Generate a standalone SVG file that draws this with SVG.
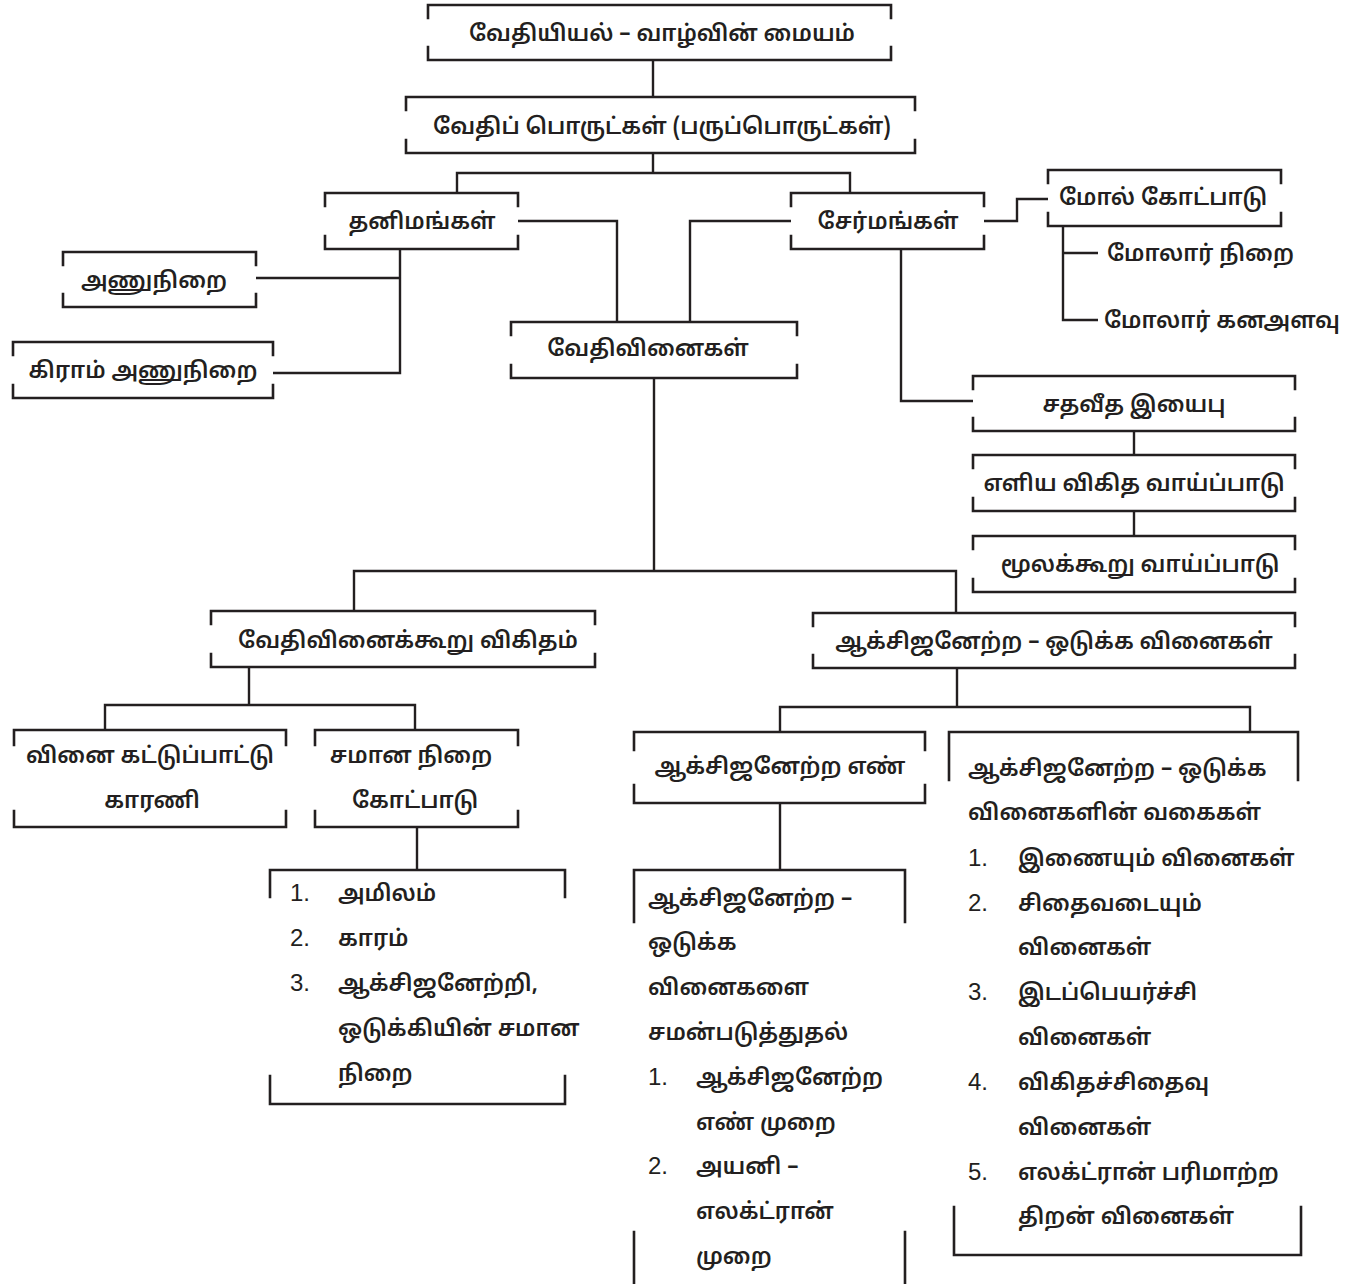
<svg xmlns="http://www.w3.org/2000/svg" width="1368" height="1284" viewBox="0 0 1368 1284">
<style>
.b{fill:none;stroke:#231f20;stroke-width:2.6;stroke-linecap:square}
.c{fill:none;stroke:#231f20;stroke-width:2.4}
text{font-family:"Noto Sans Tamil","Lohit Tamil","Noto Sans",sans-serif;font-size:22.5px;font-weight:600;fill:#231f20}
.m{text-anchor:middle}
.n{font-family:"Liberation Sans",Arial,sans-serif;font-weight:400;font-size:24px}
</style>
<rect width="1368" height="1284" fill="#fff"/>
<g id="connectors">
<path class="c" d="M653 60V97"/>
<path class="c" d="M653 153V173M457 193V173H850V193"/>
<path class="c" d="M518 221H617V322M791 221H690V322"/>
<path class="c" d="M400 249V373H273M400 278H256"/>
<path class="c" d="M984 221H1017V199H1048"/>
<path class="c" d="M1063 226V320H1098M1063 253H1098"/>
<path class="c" d="M901 249V401H973"/>
<path class="c" d="M1134 431V455M1134 511V536"/>
<path class="c" d="M654 378V571M354 611V571H956V613"/>
<path class="c" d="M249 667V705M105 730V705H415V730"/>
<path class="c" d="M417 827V870"/>
<path class="c" d="M957 668V707M780 732V707H1250V732"/>
<path class="c" d="M780 803V870"/>
</g>
<g id="n1"><path class="b" d="M428 18V5H891V18M428 47V60H891V47"/><text class="m" x="662" y="41">வேதியியல் – வாழ்வின் மையம்</text></g>
<g id="n2"><path class="b" d="M406 110V97H915V110M406 140V153H915V140"/><text class="m" x="662" y="134">வேதிப் பொருட்கள் (பருப்பொருட்கள்)</text></g>
<g id="n3"><path class="b" d="M325 206V193H518V206M325 236V249H518V236"/><text class="m" x="422" y="229">தனிமங்கள்</text></g>
<g id="n4"><path class="b" d="M791 206V193H984V206M791 236V249H984V236"/><text class="m" x="888" y="229">சேர்மங்கள்</text></g>
<g id="n5"><path class="b" d="M63 265V252H256V265M63 294V307H256V294"/><text class="m" x="154" y="288">அணுநிறை</text></g>
<g id="n6"><path class="b" d="M13 355V342H273V355M13 385V398H273V385"/><text class="m" x="143" y="378">கிராம் அணுநிறை</text></g>
<g id="n7"><path class="b" d="M511 335V322H797V335M511 365V378H797V365"/><text class="m" x="648" y="356">வேதிவினைகள்</text></g>
<g id="n8"><path class="b" d="M1048 183V170H1281V183M1048 213V226H1281V213"/><text class="m" x="1163" y="205">மோல் கோட்பாடு</text></g>
<g id="n9"><text x="1107" y="261">மோலார் நிறை</text></g>
<g id="n10"><text x="1104" y="328">மோலார் கனஅளவு</text></g>
<g id="n11"><path class="b" d="M973 389V376H1295V389M973 418V431H1295V418"/><text class="m" x="1134" y="412">சதவீத இயைபு</text></g>
<g id="n12"><path class="b" d="M973 468V455H1295V468M973 498V511H1295V498"/><text class="m" x="1134" y="491">எளிய விகித வாய்ப்பாடு</text></g>
<g id="n13"><path class="b" d="M973 549V536H1295V549M973 579V592H1295V579"/><text class="m" x="1140" y="572">மூலக்கூறு வாய்ப்பாடு</text></g>
<g id="n14"><path class="b" d="M211 624V611H595V624M211 654V667H595V654"/><text class="m" x="408" y="648">வேதிவினைக்கூறு விகிதம்</text></g>
<g id="n15"><path class="b" d="M813 626V613H1295V626M813 655V668H1295V655"/><text class="m" x="1054" y="649">ஆக்சிஜனேற்ற – ஒடுக்க வினைகள்</text></g>
<g id="n16"><path class="b" d="M14 745V730H286V745M14 811V827H286V811"/><text class="m" x="150" y="763">வினை கட்டுப்பாட்டு</text><text class="m" x="152" y="808">காரணி</text></g>
<g id="n17"><path class="b" d="M315 745V730H518V745M315 811V827H518V811"/><text class="m" x="411" y="763">சமான நிறை</text><text class="m" x="415" y="808">கோட்பாடு</text></g>
<g id="n18"><path class="b" d="M270 897V870H565V897M270 1076V1104H565V1076"/>
<text class="n" x="290" y="901">1.</text><text x="338" y="901">அமிலம்</text>
<text class="n" x="290" y="946">2.</text><text x="338" y="946">காரம்</text>
<text class="n" x="290" y="991">3.</text><text x="338" y="991">ஆக்சிஜனேற்றி,</text>
<text x="338" y="1036">ஒடுக்கியின் சமான</text>
<text x="338" y="1081">நிறை</text></g>
<g id="n19"><path class="b" d="M634 750V732H925V750M634 785V803H925V785"/><text class="m" x="780" y="774">ஆக்சிஜனேற்ற எண்</text></g>
<g id="n20"><path class="b" d="M949 780V732H1298V780M954 1207V1255H1301V1207"/>
<text x="968" y="776">ஆக்சிஜனேற்ற – ஒடுக்க</text>
<text x="968" y="820">வினைகளின் வகைகள்</text>
<text class="n" x="968" y="866">1.</text><text x="1018" y="866">இணையும் வினைகள்</text>
<text class="n" x="968" y="911">2.</text><text x="1018" y="911">சிதைவடையும்</text>
<text x="1018" y="955">வினைகள்</text>
<text class="n" x="968" y="1000">3.</text><text x="1018" y="1000">இடப்பெயர்ச்சி</text>
<text x="1018" y="1045">வினைகள்</text>
<text class="n" x="968" y="1090">4.</text><text x="1018" y="1090">விகிதச்சிதைவு</text>
<text x="1018" y="1135">வினைகள்</text>
<text class="n" x="968" y="1180">5.</text><text x="1018" y="1180">எலக்ட்ரான் பரிமாற்ற</text>
<text x="1018" y="1224">திறன் வினைகள்</text></g>
<g id="n21"><path class="b" d="M634 922V870H905V922M634 1232V1284M905 1232V1284"/>
<text x="648" y="906">ஆக்சிஜனேற்ற –</text>
<text x="648" y="950">ஒடுக்க</text>
<text x="648" y="995">வினைகளை</text>
<text x="648" y="1040">சமன்படுத்துதல்</text>
<text class="n" x="648" y="1085">1.</text><text x="696" y="1085">ஆக்சிஜனேற்ற</text>
<text x="696" y="1130">எண் முறை</text>
<text class="n" x="648" y="1174">2.</text><text x="696" y="1174">அயனி –</text>
<text x="696" y="1219">எலக்ட்ரான்</text>
<text x="696" y="1264">முறை</text></g>
</svg>
